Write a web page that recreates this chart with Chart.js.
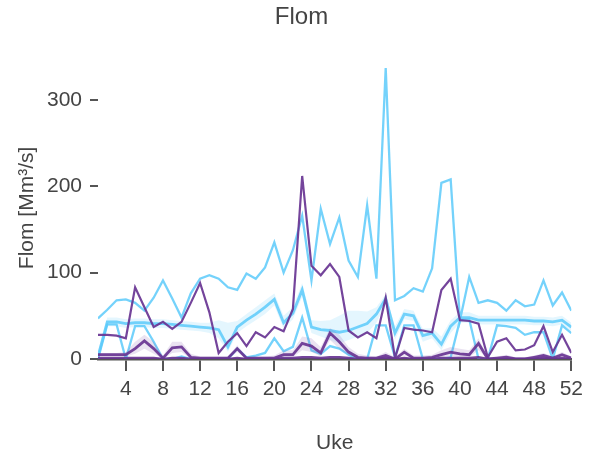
<!DOCTYPE html>
<html><head><meta charset="utf-8">
<script src="https://cdn.jsdelivr.net/npm/chart.js@4/dist/chart.umd.min.js"></script>
<style>html,body{margin:0;padding:0;background:#fff}</style>
</head><body>
<canvas id="c" width="589" height="461"></canvas>
<script>
const weeks=[1,2,3,4,5,6,7,8,9,10,11,12,13,14,15,16,17,18,19,20,21,22,23,24,25,26,27,28,29,30,31,32,33,34,35,36,37,38,39,40,41,42,43,44,45,46,47,48,49,50,51,52];
const xTickLabels=[4,8,12,16,20,24,28,32,36,40,44,48,52];
const yTickLabels=[0,100,200,300];

// light blue series
const blueMax=[47,57,68,69,65,56,71,91,70,48,76,93,97,93,83,80,99,93,106,135,100,126,166,91,174,133,164,114,95,178,93,337,68,73,82,78,105,204,208,45,95,65,68,65,56,68,61,63,91,62,77,56];
const blueMid=[3,43,43,41,42,42,41,41,40,39,38,37,36,34,14,37,45,52,60,69,42,53,80,37,34,33,31,33,37,41,52,70,30,52,50,27,30,17,38,48,48,45,45,45,45,45,45,44,44,43,45,37];
const blueHi=[8,48,48,46,47,47,46,46,45,44,43,42,42,45,42,44,52,60,68,76,50,60,88,45,44,45,50,56,56,55,60,75,38,58,56,35,36,26,45,54,54,50,50,50,50,50,50,49,49,48,50,42];
const blueLo=[0,38,38,36,37,37,36,36,35,34,33,32,30,24,8,30,38,45,52,62,35,46,72,30,26,22,18,22,26,30,42,64,22,46,44,20,24,10,30,42,42,40,40,40,40,40,40,39,39,38,40,32];
const blueLow=[0,40,40,0,38,38,20,0,0,3,0,0,0,0,0,12,2,4,7,24,9,14,48,10,6,15,12,5,0,0,39,39,2,39,39,0,0,0,2,45,46,0,0,39,38,36,28,31,31,0,39,30];

// purple series
const purpleMax=[28,28,27,24,83,60,37,43,35,43,65,88,54,7,20,30,15,31,25,37,32,58,212,108,97,110,95,33,25,31,24,71,1,36,34,33,31,80,93,45,44,41,2,20,24,10,11,16,38,8,28,7];
const purpleMid=[5,5,5,5,12,21,12,1,13,14,2,1,1,1,1,12,1,1,1,1,5,5,18,15,7,30,20,8,2,1,1,4,0,8,1,1,2,5,8,6,5,18,0,1,2,0,0,2,4,1,5,1];
const purpleHi=[7,7,7,8,20,28,20,4,20,20,6,3,3,3,3,16,3,3,3,4,10,10,26,24,14,36,28,14,6,4,3,8,2,12,4,4,5,10,14,12,10,24,2,3,5,2,2,4,7,3,8,3];
const purpleLo=[3,3,3,3,6,12,6,0,7,8,0,0,0,0,0,8,0,0,0,0,2,2,10,8,3,22,12,4,0,0,0,1,0,4,0,0,0,2,4,2,2,10,0,0,0,0,0,0,1,0,2,0];
const purpleMin=[1,1,1,1,1,1,1,0,1,1,0,0,0,0,0,1,0,0,0,0,1,1,2,2,1,2,2,1,0,0,0,1,0,1,0,0,0,1,1,1,1,2,0,0,0,0,0,0,1,0,1,0];

const pts=a=>weeks.map((w,i)=>({x:w,y:a[i]}));
const BLUE='rgba(92,202,250,0.85)';
const PURPLE='rgba(104,52,146,0.92)';
const line=(label,arr,color,w)=>({label,data:pts(arr),borderColor:color,borderWidth:w,pointRadius:0,fill:false,tension:0});
const font={family:'"Liberation Sans", Arial, sans-serif',size:21};

new Chart(document.getElementById('c'),{
  type:'line',
  data:{datasets:[
    line('purpleMax',purpleMax,PURPLE,2.2),
    line('purpleMid',purpleMid,PURPLE,2.8),
    line('purpleMin',purpleMin,PURPLE,2.6),
    {label:'purpleHi',data:pts(purpleHi),borderWidth:0,pointRadius:0,backgroundColor:'rgba(140,100,180,0.18)',fill:'+1'},
    {label:'purpleLo',data:pts(purpleLo),borderWidth:0,pointRadius:0,fill:false},
    line('blueMax',blueMax,BLUE,2.3),
    line('blueMid',blueMid,BLUE,2.8),
    line('blueLow',blueLow,BLUE,2.3),
    {label:'blueHi',data:pts(blueHi),borderWidth:0,pointRadius:0,backgroundColor:'rgba(120,210,250,0.2)',fill:'+1'},
    {label:'blueLo',data:pts(blueLo),borderWidth:0,pointRadius:0,fill:false}
  ]},
  options:{
    responsive:false,animation:false,devicePixelRatio:1,
    layout:{padding:{left:0,right:13,top:0,bottom:0}},
    plugins:{
      legend:{display:false},tooltip:{enabled:false},
      title:{display:true,text:'Flom',color:'#444',font:{family:font.family,size:24,weight:'normal'},padding:{top:2.6,bottom:25.4}}
    },
    scales:{
      x:{type:'linear',min:1,max:52,
        afterBuildTicks:s=>{s.ticks=xTickLabels.map(v=>({value:v}));},
        afterFit:s=>{s.height=102;},
        grid:{drawOnChartArea:false,drawTicks:true,tickLength:12,color:'#555',lineWidth:2},
        border:{display:true,color:'#555',width:2.5},
        ticks:{font,color:'#444',padding:6,maxRotation:0,autoSkip:false},
        title:{display:true,text:'Uke',color:'#444',font,padding:{top:0,bottom:5}}
      },
      y:{min:0,max:350,
        afterBuildTicks:s=>{s.ticks=yTickLabels.map(v=>({value:v}));},
        afterFit:s=>{s.width=98;},
        grid:{drawOnChartArea:false,drawTicks:true,tickLength:8,color:'#555',lineWidth:2},
        border:{display:false},
        ticks:{font,color:'#444',padding:8},
        title:{display:true,text:'Flom [Mm³/s]',color:'#444',font,padding:{top:14.4,bottom:0}}
      }
    }
  },
  plugins:[{id:'titleShift',afterLayout(chart){if(chart.titleBlock){chart.titleBlock.left=14;chart.titleBlock.right=589;}}}]
});
</script>
</body></html>
